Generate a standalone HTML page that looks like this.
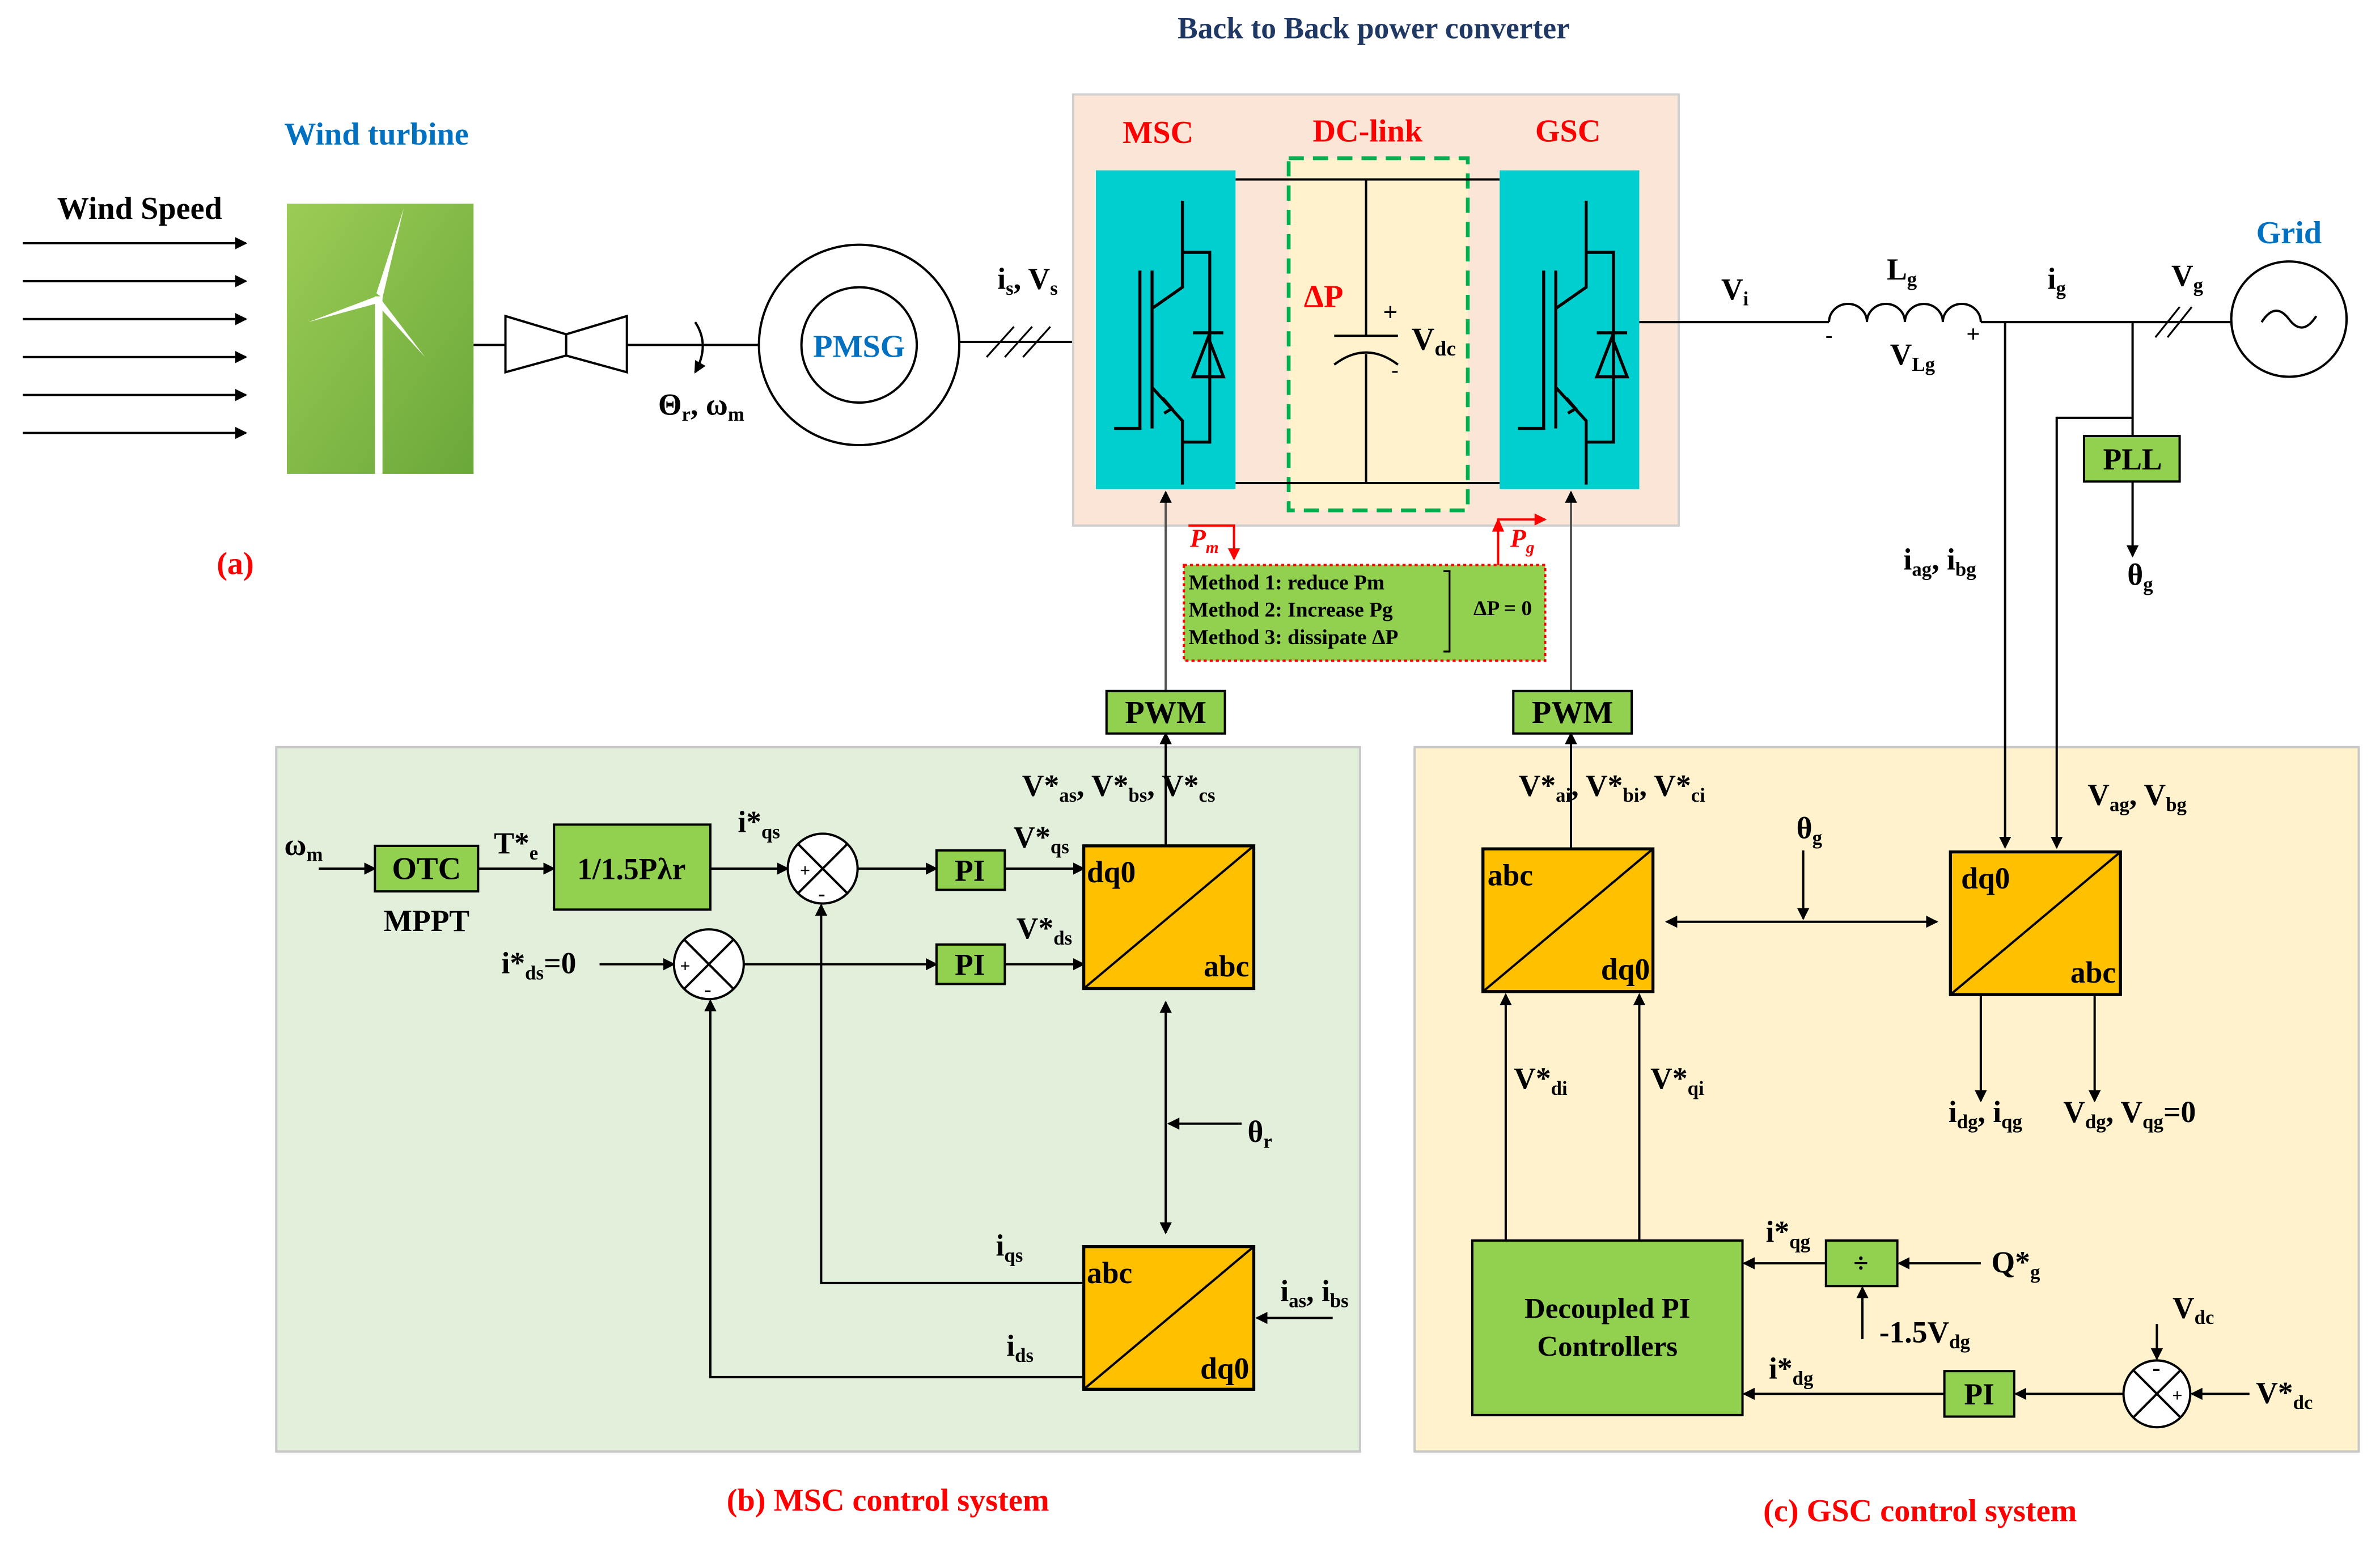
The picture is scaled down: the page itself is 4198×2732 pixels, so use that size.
<!DOCTYPE html>
<html><head><meta charset="utf-8"><style>
html,body{margin:0;padding:0;background:#fff;}
svg{display:block;}
text{font-family:"Liberation Serif",serif;font-weight:bold;}
</style></head><body>
<svg width="4198" height="2732" viewBox="0 0 1568 1020" xmlns="http://www.w3.org/2000/svg">
<defs>
<marker id="a" markerWidth="8" markerHeight="8" refX="7" refY="4" orient="auto" markerUnits="userSpaceOnUse"><path d="M0,0 L8,4 L0,8 z" fill="#000"/></marker>
<marker id="ar" markerWidth="8" markerHeight="8" refX="7" refY="4" orient="auto" markerUnits="userSpaceOnUse"><path d="M0,0 L8,4 L0,8 z" fill="#f00"/></marker>
<marker id="as" markerWidth="8" markerHeight="8" refX="1" refY="4" orient="auto" markerUnits="userSpaceOnUse"><path d="M8,0 L0,4 L8,8 z" fill="#000"/></marker>
<linearGradient id="tg" x1="0" y1="0" x2="1" y2="1"><stop offset="0" stop-color="#9ccc55"/><stop offset="1" stop-color="#6aa83a"/></linearGradient>
<g id="igbt" stroke="#000" stroke-width="2" fill="none">
<path d="M57,20 V77 L37,91"/><path d="M57,54 H75 V179 H57"/>
<path d="M64,107 H84"/><path d="M74,110 L64,136 H84 Z"/>
<path d="M37,66 V170"/><path d="M29,66 V170 H12"/>
<path d="M37,143 L57,165 V207"/><path d="M44,150 L50,157 L45,160"/>
</g>
</defs>
<rect width="1568" height="1020" fill="#fff"/>
<text x="905" y="25" font-size="20" fill="#1f3864" text-anchor="middle">Back to Back power converter</text>
<text x="92" y="144" font-size="21" text-anchor="middle">Wind Speed</text>
<g stroke="#000" stroke-width="1.5" marker-end="url(#a)">
<line x1="15" y1="160" x2="162" y2="160"/><line x1="15" y1="185" x2="162" y2="185"/><line x1="15" y1="210" x2="162" y2="210"/><line x1="15" y1="235" x2="162" y2="235"/><line x1="15" y1="260" x2="162" y2="260"/><line x1="15" y1="285" x2="162" y2="285"/>
</g>
<text x="248" y="95" font-size="21" fill="#0070c0" text-anchor="middle">Wind turbine</text>
<rect x="189" y="134" width="123" height="178" fill="url(#tg)"/>
<g fill="#fff"><rect x="247" y="195" width="5" height="117"/><path d="M248,193 L266,137 L252,196 Z"/><path d="M248,195 L203,212 L247,200 Z"/><path d="M251,197 L280,235 L248,200 Z"/></g>
<line x1="312" y1="227" x2="500" y2="227" stroke="#000" stroke-width="1.5"/>
<path d="M333,208 L373,220 L373,234 L333,245 Z M413,208 L373,220 L373,234 L413,245 Z" fill="#fff" stroke="#000" stroke-width="1.5"/>
<path d="M458,212 Q468,227 458,245" fill="none" stroke="#000" stroke-width="1.5" marker-end="url(#a)"/>
<text x="462" y="273" font-size="20" text-anchor="middle">Θ<tspan font-size="13" dy="4">r</tspan><tspan dy="-4">, ω</tspan><tspan font-size="13" dy="4">m</tspan></text>
<circle cx="566" cy="227" r="66" fill="#fff" stroke="#000" stroke-width="1.5"/>
<circle cx="566" cy="227" r="38" fill="#fff" stroke="#000" stroke-width="1.5"/>
<text x="566" y="235" font-size="21" fill="#0070c0" text-anchor="middle">PMSG</text>
<line x1="632" y1="225" x2="722" y2="225" stroke="#000" stroke-width="1.5"/>
<g stroke="#000" stroke-width="1.2"><line x1="650" y1="235" x2="668" y2="215"/><line x1="662" y1="235" x2="680" y2="215"/><line x1="674" y1="235" x2="692" y2="215"/></g>
<text x="677" y="190" font-size="20" text-anchor="middle">i<tspan font-size="13" dy="4">s</tspan><tspan dy="-4">, V</tspan><tspan font-size="13" dy="4">s</tspan></text>
<rect x="707" y="62" width="399" height="284" fill="#fbe5d6" stroke="#d0d0d0" stroke-width="1.5"/>
<rect x="849" y="104" width="118" height="232" fill="#fff2cc" stroke="#00b050" stroke-width="2.5" stroke-dasharray="10,6"/>
<text x="763" y="94" font-size="21" fill="#f00" text-anchor="middle">MSC</text>
<text x="901" y="93" font-size="21" fill="#f00" text-anchor="middle">DC-link</text>
<text x="1033" y="93" font-size="21" fill="#f00" text-anchor="middle">GSC</text>
<line x1="814" y1="118" x2="988" y2="118" stroke="#000" stroke-width="1.5"/>
<line x1="814" y1="318" x2="988" y2="318" stroke="#000" stroke-width="1.5"/>
<line x1="900" y1="118" x2="900" y2="221" stroke="#000" stroke-width="1.5"/>
<line x1="900" y1="233" x2="900" y2="318" stroke="#000" stroke-width="1.5"/>
<line x1="879" y1="221" x2="921" y2="221" stroke="#000" stroke-width="1.5"/>
<path d="M879,240 Q900,224 921,240" fill="none" stroke="#000" stroke-width="1.5"/>
<text x="872" y="202" font-size="21" fill="#f00" text-anchor="middle">ΔP</text>
<text x="916" y="211" font-size="17" text-anchor="middle" font-weight="normal">+</text>
<text x="919" y="248" font-size="14" text-anchor="middle">-</text>
<text x="930" y="230" font-size="21">V<tspan font-size="14" dy="4">dc</tspan></text>
<rect x="722" y="112" width="92" height="210" fill="#00cfd0"/>
<rect x="988" y="112" width="92" height="210" fill="#00cfd0"/>
<use href="#igbt" x="722" y="112"/>
<use href="#igbt" x="988" y="112"/>
<line x1="1080" y1="212" x2="1205" y2="212" stroke="#000" stroke-width="1.5"/>
<path d="M1205,212 a12.5,12 0 0 1 25,0 a12.5,12 0 0 1 25,0 a12.5,12 0 0 1 25,0 a12.5,12 0 0 1 25,0" fill="none" stroke="#000" stroke-width="1.5"/>
<line x1="1305" y1="212" x2="1470" y2="212" stroke="#000" stroke-width="1.5"/>
<text x="1143" y="197" font-size="20" text-anchor="middle">V<tspan font-size="13" dy="4">i</tspan></text>
<text x="1253" y="184" font-size="20" text-anchor="middle">L<tspan font-size="13" dy="4">g</tspan></text>
<text x="1260" y="240" font-size="20" text-anchor="middle">V<tspan font-size="13" dy="4">Lg</tspan></text>
<text x="1205" y="225" font-size="14" text-anchor="middle">-</text>
<text x="1300" y="225" font-size="16" text-anchor="middle" font-weight="normal">+</text>
<text x="1355" y="190" font-size="20" text-anchor="middle">i<tspan font-size="13" dy="4">g</tspan></text>
<text x="1441" y="188" font-size="20" text-anchor="middle">V<tspan font-size="13" dy="4">g</tspan></text>
<g stroke="#000" stroke-width="1.2"><line x1="1420" y1="222" x2="1436" y2="202"/><line x1="1428" y1="222" x2="1444" y2="202"/></g>
<text x="1508" y="160" font-size="21" fill="#0070c0" text-anchor="middle">Grid</text>
<circle cx="1508" cy="210" r="38" fill="#fff" stroke="#000" stroke-width="1.5"/>
<path d="M1490,212 Q1499,198 1508,210 Q1517,222 1526,208" fill="none" stroke="#000" stroke-width="1.5"/>
<line x1="1405" y1="212" x2="1405" y2="287" stroke="#000" stroke-width="1.5"/>
<rect x="1373" y="287" width="63" height="30" fill="#92d050" stroke="#000" stroke-width="1.5"/>
<text x="1405" y="309" font-size="20" text-anchor="middle">PLL</text>
<line x1="1405" y1="317" x2="1405" y2="366" stroke="#000" stroke-width="1.5" marker-end="url(#a)"/>
<text x="1410" y="385" font-size="20" text-anchor="middle">θ<tspan font-size="13" dy="4">g</tspan></text>
<text x="1278" y="375" font-size="20" text-anchor="middle">i<tspan font-size="13" dy="4">ag</tspan><tspan dy="-4">, i</tspan><tspan font-size="13" dy="4">bg</tspan></text>
<text x="155" y="378" font-size="21" fill="#f00" text-anchor="middle">(a)</text>
<path d="M783,346 H813 V368" fill="none" stroke="#f00" stroke-width="1.5" marker-end="url(#ar)"/>
<text x="784" y="360" font-size="17" fill="#f00" font-style="italic">P<tspan font-size="11" dy="4">m</tspan></text>
<path d="M987,372 V342 H1018" fill="none" stroke="#f00" stroke-width="1.5" marker-end="url(#ar)"/>
<path d="M983,350 L987,341 L991,350 Z" fill="#f00"/>
<text x="995" y="360" font-size="17" fill="#f00" font-style="italic">P<tspan font-size="11" dy="4">g</tspan></text>
<rect x="780" y="372" width="238" height="63" fill="#92d050" stroke="#f00" stroke-width="1.5" stroke-dasharray="2,2"/>
<text x="783" y="388" font-size="14">Method 1: reduce Pm</text>
<text x="783" y="406" font-size="14">Method 2: Increase Pg</text>
<text x="783" y="424" font-size="14">Method 3: dissipate ΔP</text>
<path d="M951,376 H955 V429 H951" fill="none" stroke="#000" stroke-width="1.2"/>
<text x="990" y="405" font-size="14" text-anchor="middle">ΔP = 0</text>
<line x1="768" y1="455" x2="768" y2="324" stroke="#555" stroke-width="1.5" marker-end="url(#a)"/>
<line x1="1035" y1="455" x2="1035" y2="324" stroke="#555" stroke-width="1.5" marker-end="url(#a)"/>
<rect x="729" y="455" width="78" height="28" fill="#92d050" stroke="#000" stroke-width="1.5"/>
<text x="768" y="476" font-size="21" text-anchor="middle">PWM</text>
<rect x="997" y="455" width="78" height="28" fill="#92d050" stroke="#000" stroke-width="1.5"/>
<text x="1036" y="476" font-size="21" text-anchor="middle">PWM</text>
<!-- MSC panel -->
<rect x="182" y="492" width="714" height="464" fill="#e2efda" stroke="#c8c8c8" stroke-width="1.5"/>
<line x1="768" y1="557" x2="768" y2="483" stroke="#000" stroke-width="1.5" marker-end="url(#a)"/>
<text x="737" y="524" font-size="20" text-anchor="middle">V*<tspan font-size="13" dy="4">as</tspan><tspan dy="-4">, V*</tspan><tspan font-size="13" dy="4">bs</tspan><tspan dy="-4">, V*</tspan><tspan font-size="13" dy="4">cs</tspan></text>
<text x="200" y="563" font-size="20" text-anchor="middle">ω<tspan font-size="13" dy="4">m</tspan></text>
<line x1="210" y1="572" x2="247" y2="572" stroke="#000" stroke-width="1.5" marker-end="url(#a)"/>
<rect x="247" y="557" width="68" height="30" fill="#92d050" stroke="#000" stroke-width="1.5"/>
<text x="281" y="579" font-size="21" text-anchor="middle">OTC</text>
<text x="281" y="613" font-size="20" text-anchor="middle">MPPT</text>
<line x1="315" y1="572" x2="365" y2="572" stroke="#000" stroke-width="1.5" marker-end="url(#a)"/>
<text x="340" y="562" font-size="20" text-anchor="middle">T*<tspan font-size="13" dy="4">e</tspan></text>
<rect x="365" y="543" width="103" height="56" fill="#92d050" stroke="#000" stroke-width="1.5"/>
<text x="416" y="579" font-size="20" text-anchor="middle">1/1.5Pλr</text>
<line x1="468" y1="572" x2="519" y2="572" stroke="#000" stroke-width="1.5" marker-end="url(#a)"/>
<text x="500" y="548" font-size="20" text-anchor="middle">i*<tspan font-size="13" dy="4">qs</tspan></text>
<g stroke="#000" stroke-width="1.5" fill="#fff"><circle cx="542" cy="572" r="23"/><line x1="526" y1="556" x2="558" y2="588"/><line x1="558" y1="556" x2="526" y2="588"/></g>
<text x="527" y="577" font-size="12" font-weight="normal">+</text><text x="539" y="593" font-size="14">-</text>
<line x1="565" y1="572" x2="617" y2="572" stroke="#000" stroke-width="1.5" marker-end="url(#a)"/>
<rect x="617" y="560" width="45" height="26" fill="#92d050" stroke="#000" stroke-width="1.5"/>
<text x="639" y="580" font-size="20" text-anchor="middle">PI</text>
<line x1="662" y1="572" x2="714" y2="572" stroke="#000" stroke-width="1.5" marker-end="url(#a)"/>
<text x="686" y="558" font-size="20" text-anchor="middle">V*<tspan font-size="13" dy="4">qs</tspan></text>
<text x="355" y="641" font-size="20" text-anchor="middle">i*<tspan font-size="13" dy="4">ds</tspan><tspan dy="-4">=0</tspan></text>
<line x1="395" y1="635" x2="444" y2="635" stroke="#000" stroke-width="1.5" marker-end="url(#a)"/>
<g stroke="#000" stroke-width="1.5" fill="#fff"><circle cx="467" cy="635" r="23"/><line x1="451" y1="619" x2="483" y2="651"/><line x1="483" y1="619" x2="451" y2="651"/></g>
<text x="448" y="640" font-size="12" font-weight="normal">+</text><text x="464" y="656" font-size="14">-</text>
<line x1="490" y1="635" x2="617" y2="635" stroke="#000" stroke-width="1.5" marker-end="url(#a)"/>
<rect x="617" y="622" width="45" height="26" fill="#92d050" stroke="#000" stroke-width="1.5"/>
<text x="639" y="642" font-size="20" text-anchor="middle">PI</text>
<line x1="662" y1="635" x2="714" y2="635" stroke="#000" stroke-width="1.5" marker-end="url(#a)"/>
<text x="688" y="618" font-size="20" text-anchor="middle">V*<tspan font-size="13" dy="4">ds</tspan></text>
<rect x="714" y="557" width="112" height="94" fill="#ffc000" stroke="#000" stroke-width="2"/>
<line x1="714" y1="651" x2="826" y2="557" stroke="#000" stroke-width="1.5"/>
<text x="716" y="581" font-size="20">dq0</text><text x="823" y="643" font-size="20" text-anchor="end">abc</text>
<line x1="768" y1="660" x2="768" y2="812" stroke="#000" stroke-width="1.5" marker-start="url(#as)" marker-end="url(#a)"/>
<line x1="818" y1="740" x2="770" y2="740" stroke="#000" stroke-width="1.5" marker-end="url(#a)"/>
<text x="830" y="752" font-size="20" text-anchor="middle">θ<tspan font-size="13" dy="4">r</tspan></text>
<rect x="714" y="821" width="112" height="94" fill="#ffc000" stroke="#000" stroke-width="2"/>
<line x1="714" y1="915" x2="826" y2="821" stroke="#000" stroke-width="1.5"/>
<text x="716" y="845" font-size="20">abc</text><text x="823" y="908" font-size="20" text-anchor="end">dq0</text>
<line x1="878" y1="868" x2="828" y2="868" stroke="#000" stroke-width="1.5" marker-end="url(#a)"/>
<text x="866" y="857" font-size="20" text-anchor="middle">i<tspan font-size="13" dy="4">as</tspan><tspan dy="-4">, i</tspan><tspan font-size="13" dy="4">bs</tspan></text>
<path d="M714,845 H541 V596" fill="none" stroke="#000" stroke-width="1.5" marker-end="url(#a)"/>
<path d="M714,907 H468 V659" fill="none" stroke="#000" stroke-width="1.5" marker-end="url(#a)"/>
<text x="665" y="827" font-size="20" text-anchor="middle">i<tspan font-size="13" dy="4">qs</tspan></text>
<text x="672" y="893" font-size="20" text-anchor="middle">i<tspan font-size="13" dy="4">ds</tspan></text>
<text x="585" y="995" font-size="21" fill="#f00" text-anchor="middle">(b)  MSC control system</text>
<!-- GSC panel -->
<rect x="932" y="492" width="622" height="464" fill="#fff2cc" stroke="#c8c8c8" stroke-width="1.5"/>
<line x1="1321" y1="212" x2="1321" y2="558" stroke="#000" stroke-width="1.5" marker-end="url(#a)"/>
<path d="M1405,275 H1355 V558" fill="none" stroke="#000" stroke-width="1.5" marker-end="url(#a)"/>
<line x1="1035" y1="559" x2="1035" y2="483" stroke="#000" stroke-width="1.5" marker-end="url(#a)"/>
<text x="1062" y="524" font-size="20" text-anchor="middle">V*<tspan font-size="13" dy="4">ai</tspan><tspan dy="-4">, V*</tspan><tspan font-size="13" dy="4">bi</tspan><tspan dy="-4">, V*</tspan><tspan font-size="13" dy="4">ci</tspan></text>
<text x="1408" y="530" font-size="20" text-anchor="middle">V<tspan font-size="13" dy="4">ag</tspan><tspan dy="-4">, V</tspan><tspan font-size="13" dy="4">bg</tspan></text>
<rect x="977" y="559" width="112" height="94" fill="#ffc000" stroke="#000" stroke-width="2"/>
<line x1="977" y1="653" x2="1089" y2="559" stroke="#000" stroke-width="1.5"/>
<text x="980" y="583" font-size="20">abc</text><text x="1087" y="645" font-size="20" text-anchor="end">dq0</text>
<rect x="1285" y="561" width="112" height="94" fill="#ffc000" stroke="#000" stroke-width="2"/>
<line x1="1285" y1="655" x2="1397" y2="561" stroke="#000" stroke-width="1.5"/>
<text x="1292" y="585" font-size="20">dq0</text><text x="1394" y="647" font-size="20" text-anchor="end">abc</text>
<line x1="1098" y1="607" x2="1276" y2="607" stroke="#000" stroke-width="1.5" marker-start="url(#as)" marker-end="url(#a)"/>
<line x1="1188" y1="560" x2="1188" y2="605" stroke="#000" stroke-width="1.5" marker-end="url(#a)"/>
<text x="1192" y="552" font-size="20" text-anchor="middle">θ<tspan font-size="13" dy="4">g</tspan></text>
<line x1="1305" y1="655" x2="1305" y2="725" stroke="#000" stroke-width="1.5" marker-end="url(#a)"/>
<line x1="1380" y1="655" x2="1380" y2="725" stroke="#000" stroke-width="1.5" marker-end="url(#a)"/>
<text x="1308" y="739" font-size="20" text-anchor="middle">i<tspan font-size="13" dy="4">dg</tspan><tspan dy="-4">, i</tspan><tspan font-size="13" dy="4">qg</tspan></text>
<text x="1403" y="739" font-size="20" text-anchor="middle">V<tspan font-size="13" dy="4">dg</tspan><tspan dy="-4">, V</tspan><tspan font-size="13" dy="4">qg</tspan><tspan dy="-4">=0</tspan></text>
<line x1="992" y1="817" x2="992" y2="655" stroke="#000" stroke-width="1.5" marker-end="url(#a)"/>
<line x1="1080" y1="817" x2="1080" y2="655" stroke="#000" stroke-width="1.5" marker-end="url(#a)"/>
<text x="1015" y="717" font-size="20" text-anchor="middle">V*<tspan font-size="13" dy="4">di</tspan></text>
<text x="1105" y="717" font-size="20" text-anchor="middle">V*<tspan font-size="13" dy="4">qi</tspan></text>
<rect x="970" y="817" width="178" height="115" fill="#92d050" stroke="#000" stroke-width="1.5"/>
<text x="1059" y="868" font-size="19" text-anchor="middle">Decoupled PI</text>
<text x="1059" y="893" font-size="19" text-anchor="middle">Controllers</text>
<rect x="1203" y="817" width="47" height="30" fill="#92d050" stroke="#000" stroke-width="1.5"/>
<text x="1226" y="838" font-size="18" text-anchor="middle" font-weight="normal">÷</text>
<line x1="1305" y1="832" x2="1251" y2="832" stroke="#000" stroke-width="1.5" marker-end="url(#a)"/>
<text x="1328" y="838" font-size="20" text-anchor="middle">Q*<tspan font-size="13" dy="4">g</tspan></text>
<line x1="1203" y1="832" x2="1149" y2="832" stroke="#000" stroke-width="1.5" marker-end="url(#a)"/>
<text x="1178" y="818" font-size="20" text-anchor="middle">i*<tspan font-size="13" dy="4">qg</tspan></text>
<line x1="1227" y1="882" x2="1227" y2="848" stroke="#000" stroke-width="1.5" marker-end="url(#a)"/>
<text x="1268" y="884" font-size="20" text-anchor="middle">-1.5V<tspan font-size="13" dy="4">dg</tspan></text>
<rect x="1281" y="903" width="46" height="30" fill="#92d050" stroke="#000" stroke-width="1.5"/>
<text x="1304" y="925" font-size="20" text-anchor="middle">PI</text>
<line x1="1281" y1="918" x2="1149" y2="918" stroke="#000" stroke-width="1.5" marker-end="url(#a)"/>
<text x="1180" y="908" font-size="20" text-anchor="middle">i*<tspan font-size="13" dy="4">dg</tspan></text>
<line x1="1399" y1="918" x2="1328" y2="918" stroke="#000" stroke-width="1.5" marker-end="url(#a)"/>
<g stroke="#000" stroke-width="1.5" fill="#fff"><circle cx="1421" cy="918" r="22"/><line x1="1405" y1="902" x2="1437" y2="934"/><line x1="1437" y1="902" x2="1405" y2="934"/></g>
<text x="1418" y="906" font-size="16">-</text><text x="1431" y="923" font-size="12" font-weight="normal">+</text>
<line x1="1421" y1="872" x2="1421" y2="895" stroke="#000" stroke-width="1.5" marker-end="url(#a)"/>
<text x="1445" y="868" font-size="20" text-anchor="middle">V<tspan font-size="13" dy="4">dc</tspan></text>
<line x1="1482" y1="918" x2="1444" y2="918" stroke="#000" stroke-width="1.5" marker-end="url(#a)"/>
<text x="1505" y="924" font-size="20" text-anchor="middle">V*<tspan font-size="13" dy="4">dc</tspan></text>
<text x="1265" y="1002" font-size="21" fill="#f00" text-anchor="middle">(c)  GSC control system</text>
</svg>
</body></html>
